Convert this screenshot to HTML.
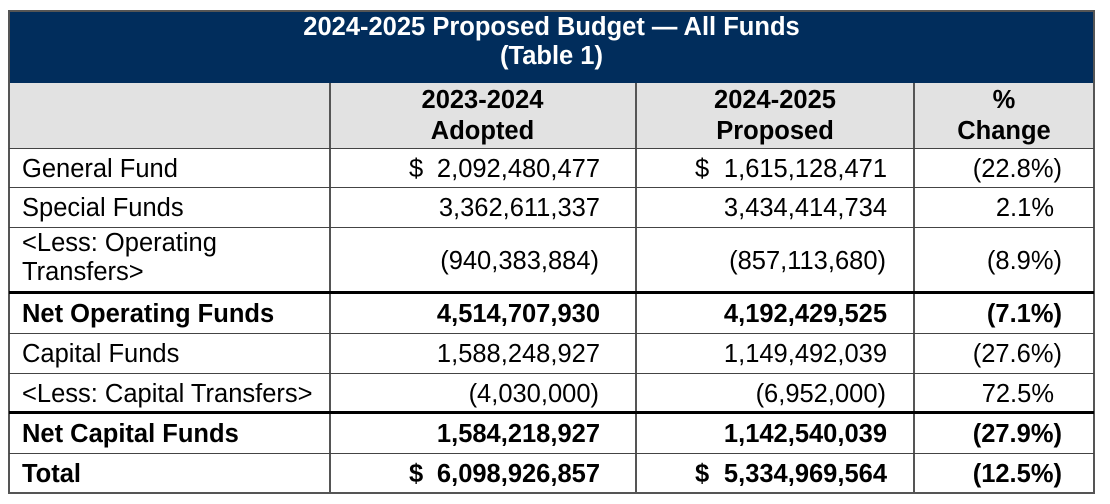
<!DOCTYPE html>
<html><head><meta charset="utf-8"><style>
body{margin:0;width:1110px;height:504px;background:#fff;position:relative;font-family:"Liberation Sans",Arial,sans-serif;overflow:hidden}
.a{position:absolute;box-sizing:border-box}
.hl{position:absolute;background:#444;height:1px}
.vl{position:absolute;background:#555;width:2px}
.t{position:absolute;font-size:25.5px;color:#000;white-space:nowrap;line-height:26px}
.b{font-weight:bold}
.r{text-align:right}
</style></head><body>
<div class="a" style="left:9px;top:10px;width:1085px;height:73px;background:#012d5c;color:#fff;font-weight:bold;font-size:25.5px;text-align:center;line-height:29px;padding-top:3px">2024-2025 Proposed Budget — All Funds<br>(Table 1)</div>
<div class="a" style="left:9px;top:83px;width:1085px;height:65px;background:#e2e2e2"></div>
<div class="a" style="left:8px;top:10px;width:1087px;height:484px;border:2px solid #555"></div>
<div class="vl" style="left:329px;top:83px;height:410px"></div>
<div class="vl" style="left:635px;top:83px;height:410px"></div>
<div class="vl" style="left:913px;top:83px;height:410px"></div>
<div id="rows"></div>
<div class="t b" style="left:330px;width:305px;top:85px;text-align:center;line-height:31px">2023-2024<br>Adopted</div>
<div class="t b" style="left:636px;width:278px;top:85px;text-align:center;line-height:31px">2024-2025<br>Proposed</div>
<div class="t b" style="left:914px;width:180px;top:85px;text-align:center;line-height:31px">%<br>Change</div>
<script>
const labels=["General Fund","Special Funds","<Less: Operating|Transfers>","Net Operating Funds","Capital Funds","<Less: Capital Transfers>","Net Capital Funds","Total"];
const adopted=["2,092,480,477","3,362,611,337","(940,383,884)","4,514,707,930","1,588,248,927","(4,030,000)","1,584,218,927","6,098,926,857"];
const proposed=["1,615,128,471","3,434,414,734","(857,113,680)","4,192,429,525","1,149,492,039","(6,952,000)","1,142,540,039","5,334,969,564"];
const change=["(22.8%)","2.1%","(8.9%)","(7.1%)","(27.6%)","72.5%","(27.9%)","(12.5%)"];
const bold=[0,0,0,1,0,0,1,1];
const dollar=[1,0,0,0,0,0,0,1];
const ys=[148,187,227,293,333,373,413,453,493];
const c=document.getElementById('rows');
function add(html,name,style,cls){const d=document.createElement('div');d.className=cls;d.setAttribute('style',style);d.textContent=html;


c.appendChild(d);return d;}
for(let i=0;i<labels.length;i++){
 const top=ys[i],h=ys[i+1]-top;
 const thick=(i==3||i==6);
 const ln=document.createElement('div');ln.className='hl';ln.setAttribute('style',`left:9px;width:1085px;top:${top-(thick?2:0)}px;height:${thick?3:1}px;background:${thick?'#000':'#444'}`);
 
 
 c.appendChild(ln);
 const cls='t'+(bold[i]?' b':'');
 const cy=top+(h-26)/2+1;
 const lab=labels[i].split('|');
 if(lab.length>1){
  add(lab[0],'row-label',`left:22px;top:${top+3}px`,cls);
  add(lab[1],'row-label',`left:22px;top:${top+32}px`,cls);
 } else add(lab[0],'row-label',`left:22px;top:${cy}px`,cls);
 const pa=adopted[i].endsWith(')')?0:1, pp=proposed[i].endsWith(')')?0:1, pc=change[i].endsWith(')')?0:8;
 add(adopted[i],'adopted-value',`right:${1110-599-pa}px;top:${cy}px`,cls);
 add(proposed[i],'proposed-value',`right:${1110-886-pp}px;top:${cy}px`,cls);
 add(change[i],'percent-change',`right:${1110-1062+pc}px;top:${cy}px`,cls);
 if(dollar[i]){add('$','dollar-sign',`left:409px;top:${cy}px`,cls);add('$','dollar-sign',`left:695px;top:${cy}px`,cls);}
}
</script>
</body></html>
